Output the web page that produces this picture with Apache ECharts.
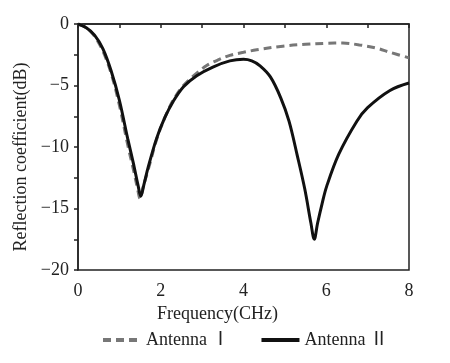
<!DOCTYPE html>
<html>
<head>
<meta charset="utf-8">
<script src="https://cdn.jsdelivr.net/npm/echarts@6/dist/echarts.min.js"></script>
<style>html,body{margin:0;padding:0;background:#fff;}#c{width:450px;height:363px;}</style>
</head>
<body>
<div id="c"></div>
<script>
const xTicks = [0, 2, 4, 6, 8];
const yTicks = [-20, -15, -10, -5, 0];
const seriesNames = ['Antenna Ⅰ', 'Antenna Ⅱ'];

const freqA1 = [0, 0.2, 0.4, 0.6, 0.8, 1.0, 1.2, 1.35, 1.44, 1.5, 1.57, 1.7, 1.9, 2.1, 2.3, 2.55, 2.87, 3.12, 3.4, 3.67, 4.0, 4.32, 4.95, 5.5, 6.0, 6.4, 6.8, 7.2, 7.54, 8.0];
const valA1  = [0, -0.3, -1.0, -2.2, -4.0, -6.6, -9.8, -12.0, -13.4, -14.2, -13.3, -11.8, -9.4, -7.6, -6.2, -5.0, -4.0, -3.36, -2.9, -2.55, -2.3, -2.1, -1.8, -1.65, -1.57, -1.55, -1.7, -1.95, -2.3, -2.75];

const freqA2 = [0, 0.2, 0.4, 0.6, 0.8, 1.0, 1.2, 1.35, 1.45, 1.52, 1.59, 1.7, 1.9, 2.1, 2.3, 2.55, 2.87, 3.26, 3.67, 4.0, 4.2, 4.4, 4.65, 4.9, 5.1, 5.3, 5.48, 5.63, 5.71, 5.79, 5.9, 6.01, 6.3, 6.74, 7.0, 7.54, 8.0];
const valA2  = [0, -0.3, -0.9, -2.0, -3.8, -6.2, -9.3, -11.5, -13.1, -14.0, -13.1, -11.6, -9.3, -7.6, -6.3, -5.1, -4.2, -3.5, -3.0, -2.87, -3.0, -3.4, -4.3, -6.0, -7.9, -10.7, -13.4, -16.2, -17.5, -16.2, -14.6, -13.2, -10.6, -7.9, -6.8, -5.4, -4.8];

const pairs = (xs, ys) => xs.map((x, i) => [x, ys[i]]);
const font = '"Liberation Serif", "Noto Sans CJK SC", serif';
const axisColor = '#222';

const chart = echarts.init(document.getElementById('c'), null, {renderer: 'canvas'});
chart.setOption({
  animation: false,
  backgroundColor: '#fff',
  grid: {left: 78, right: 41, top: 24, bottom: 93, show: true, borderColor: axisColor, borderWidth: 1.5, backgroundColor: 'transparent'},
  legend: {
    bottom: 9, left: 96, itemWidth: 38, itemHeight: 12, itemGap: 30,
    textStyle: {fontFamily: font, fontSize: 18, color: '#222'},
    itemStyle: {opacity: 0},
    lineStyle: {width: 4},
    data: seriesNames
  },
  xAxis: {
    type: 'value', min: xTicks[0], max: xTicks[xTicks.length - 1], interval: 2,
    name: 'Frequency(CHz)', nameLocation: 'middle', nameGap: 26,
    nameTextStyle: {fontFamily: font, fontSize: 18, color: '#222', padding: [0, 52, 0, 0]},
    axisLine: {show: true, lineStyle: {color: axisColor, width: 1.5}},
    axisTick: {show: true, inside: false, length: 4, lineStyle: {color: axisColor, width: 1.5}},
    minorTick: {show: true, splitNumber: 2, length: 4, lineStyle: {color: axisColor, width: 1.5}},
    axisLabel: {fontFamily: font, fontSize: 18, color: '#222', margin: 12},
    splitLine: {show: false}
  },
  yAxis: {
    type: 'value', min: yTicks[0], max: yTicks[yTicks.length - 1], interval: 5,
    name: 'Reflection coefficient(dB)', nameLocation: 'middle', nameGap: 48, nameRotate: 90,
    nameTextStyle: {fontFamily: font, fontSize: 18, color: '#222', padding: [0, 20, 0, 0]},
    axisLine: {show: true, lineStyle: {color: axisColor, width: 1.5}},
    axisTick: {show: true, inside: false, length: 4, lineStyle: {color: axisColor, width: 1.5}},
    minorTick: {show: true, splitNumber: 2, length: 4, lineStyle: {color: axisColor, width: 1.5}},
    axisLabel: {fontFamily: font, fontSize: 18, color: '#222', margin: 9,
      formatter: v => String(v).replace('-', '\u2212')},
    splitLine: {show: false}
  },
  series: [
    {
      name: seriesNames[0], type: 'line', smooth: 0.35, symbol: 'none', z: 2,
      data: pairs(freqA1, valA1),
      itemStyle: {color: '#777'},
      lineStyle: {color: '#777', width: 3, type: [8, 5]}
    },
    {
      name: seriesNames[1], type: 'line', smooth: 0.35, symbol: 'none', z: 3,
      data: pairs(freqA2, valA2),
      itemStyle: {color: '#111'},
      lineStyle: {color: '#111', width: 3}
    }
  ]
});
</script>
</body>
</html>
